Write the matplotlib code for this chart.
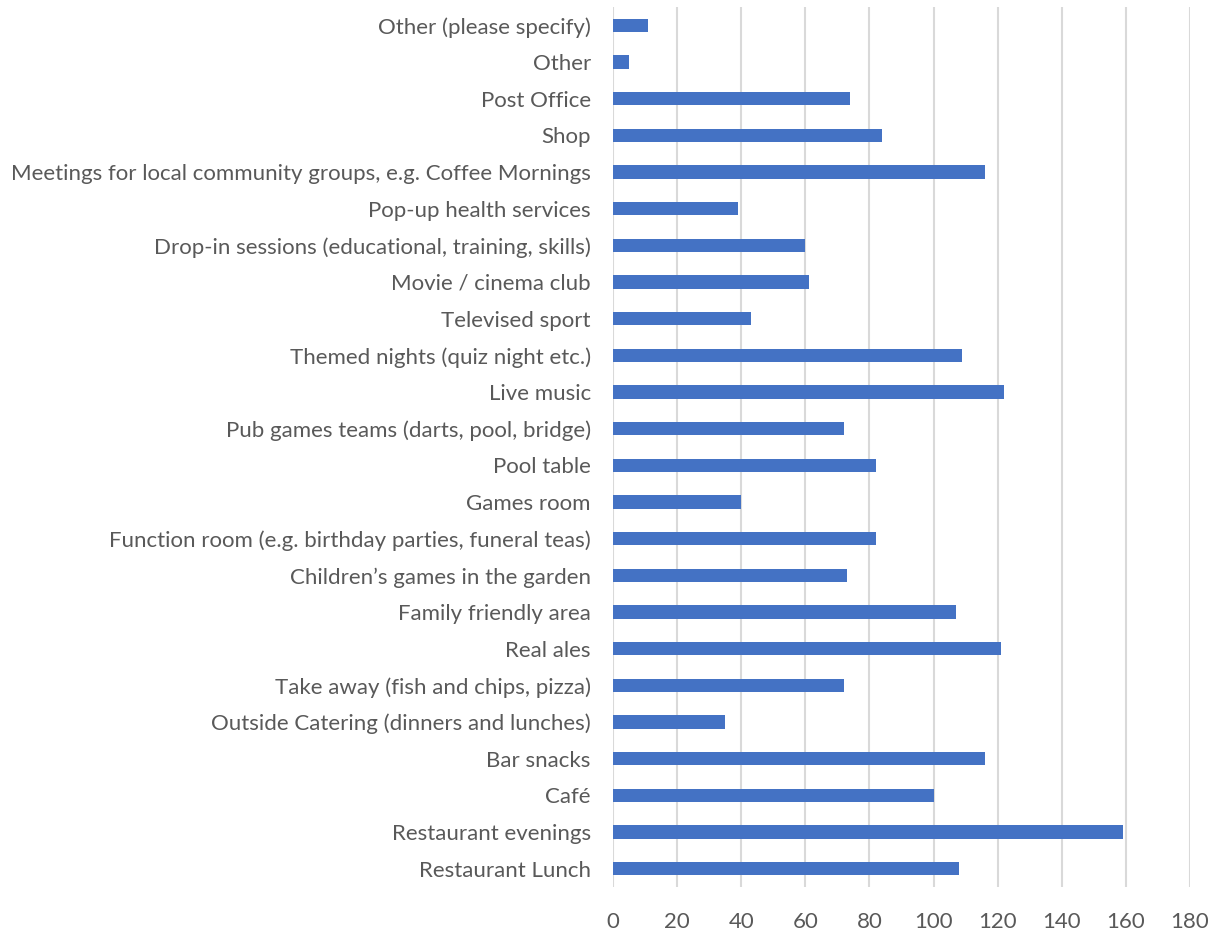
import matplotlib.pyplot as plt

# categories top to bottom, as shown
categories = [
    'Other (please specify)',
    'Other',
    'Post Office',
    'Shop',
    'Meetings for local community groups, e.g. Coffee Mornings',
    'Pop-up health services',
    'Drop-in sessions (educational, training, skills)',
    'Movie / cinema club',
    'Televised sport',
    'Themed nights (quiz night etc.)',
    'Live music',
    'Pub games teams (darts, pool, bridge)',
    'Pool table',
    'Games room',
    'Function room (e.g. birthday parties, funeral teas)',
    'Children\u2019s games in the garden',
    'Family friendly area',
    'Real ales',
    'Take away (fish and chips, pizza)',
    'Outside Catering (dinners and lunches)',
    'Bar snacks',
    'Caf\u00e9',
    'Restaurant evenings',
    'Restaurant Lunch',
]
counts = [11, 5, 74, 84, 116, 39, 60, 61, 43, 109, 122, 72, 82, 40,
          82, 73, 107, 121, 72, 35, 116, 100, 159, 108]
xticks = [0, 20, 40, 60, 80, 100, 120, 140, 160, 180]

plt.rcParams['font.family'] = ['Lato', 'DejaVu Sans']

fig = plt.figure(figsize=(12.2, 9.3), dpi=100)
ax = fig.add_axes([0.5025, 0.0462, 0.4729, 0.9463])

ypos = list(range(len(categories)))[::-1]
ax.barh(ypos, counts, height=0.37, color='#4472C4', zorder=3)

ax.set_xlim(0, 180)
ax.set_ylim(-0.5, len(categories) - 0.5)
ax.set_xticks(xticks)
ax.set_yticks(ypos)
ax.set_yticklabels(categories)
ax.tick_params(axis='both', length=0, labelsize=16, colors='#595959')
ax.tick_params(axis='y', pad=16)
ax.tick_params(axis='x', pad=18)
ax.grid(axis='x', color='#d9d9d9', linewidth=1.5, zorder=0)
for s in ax.spines.values():
    s.set_visible(False)

fig.savefig('out.png', dpi=100)
